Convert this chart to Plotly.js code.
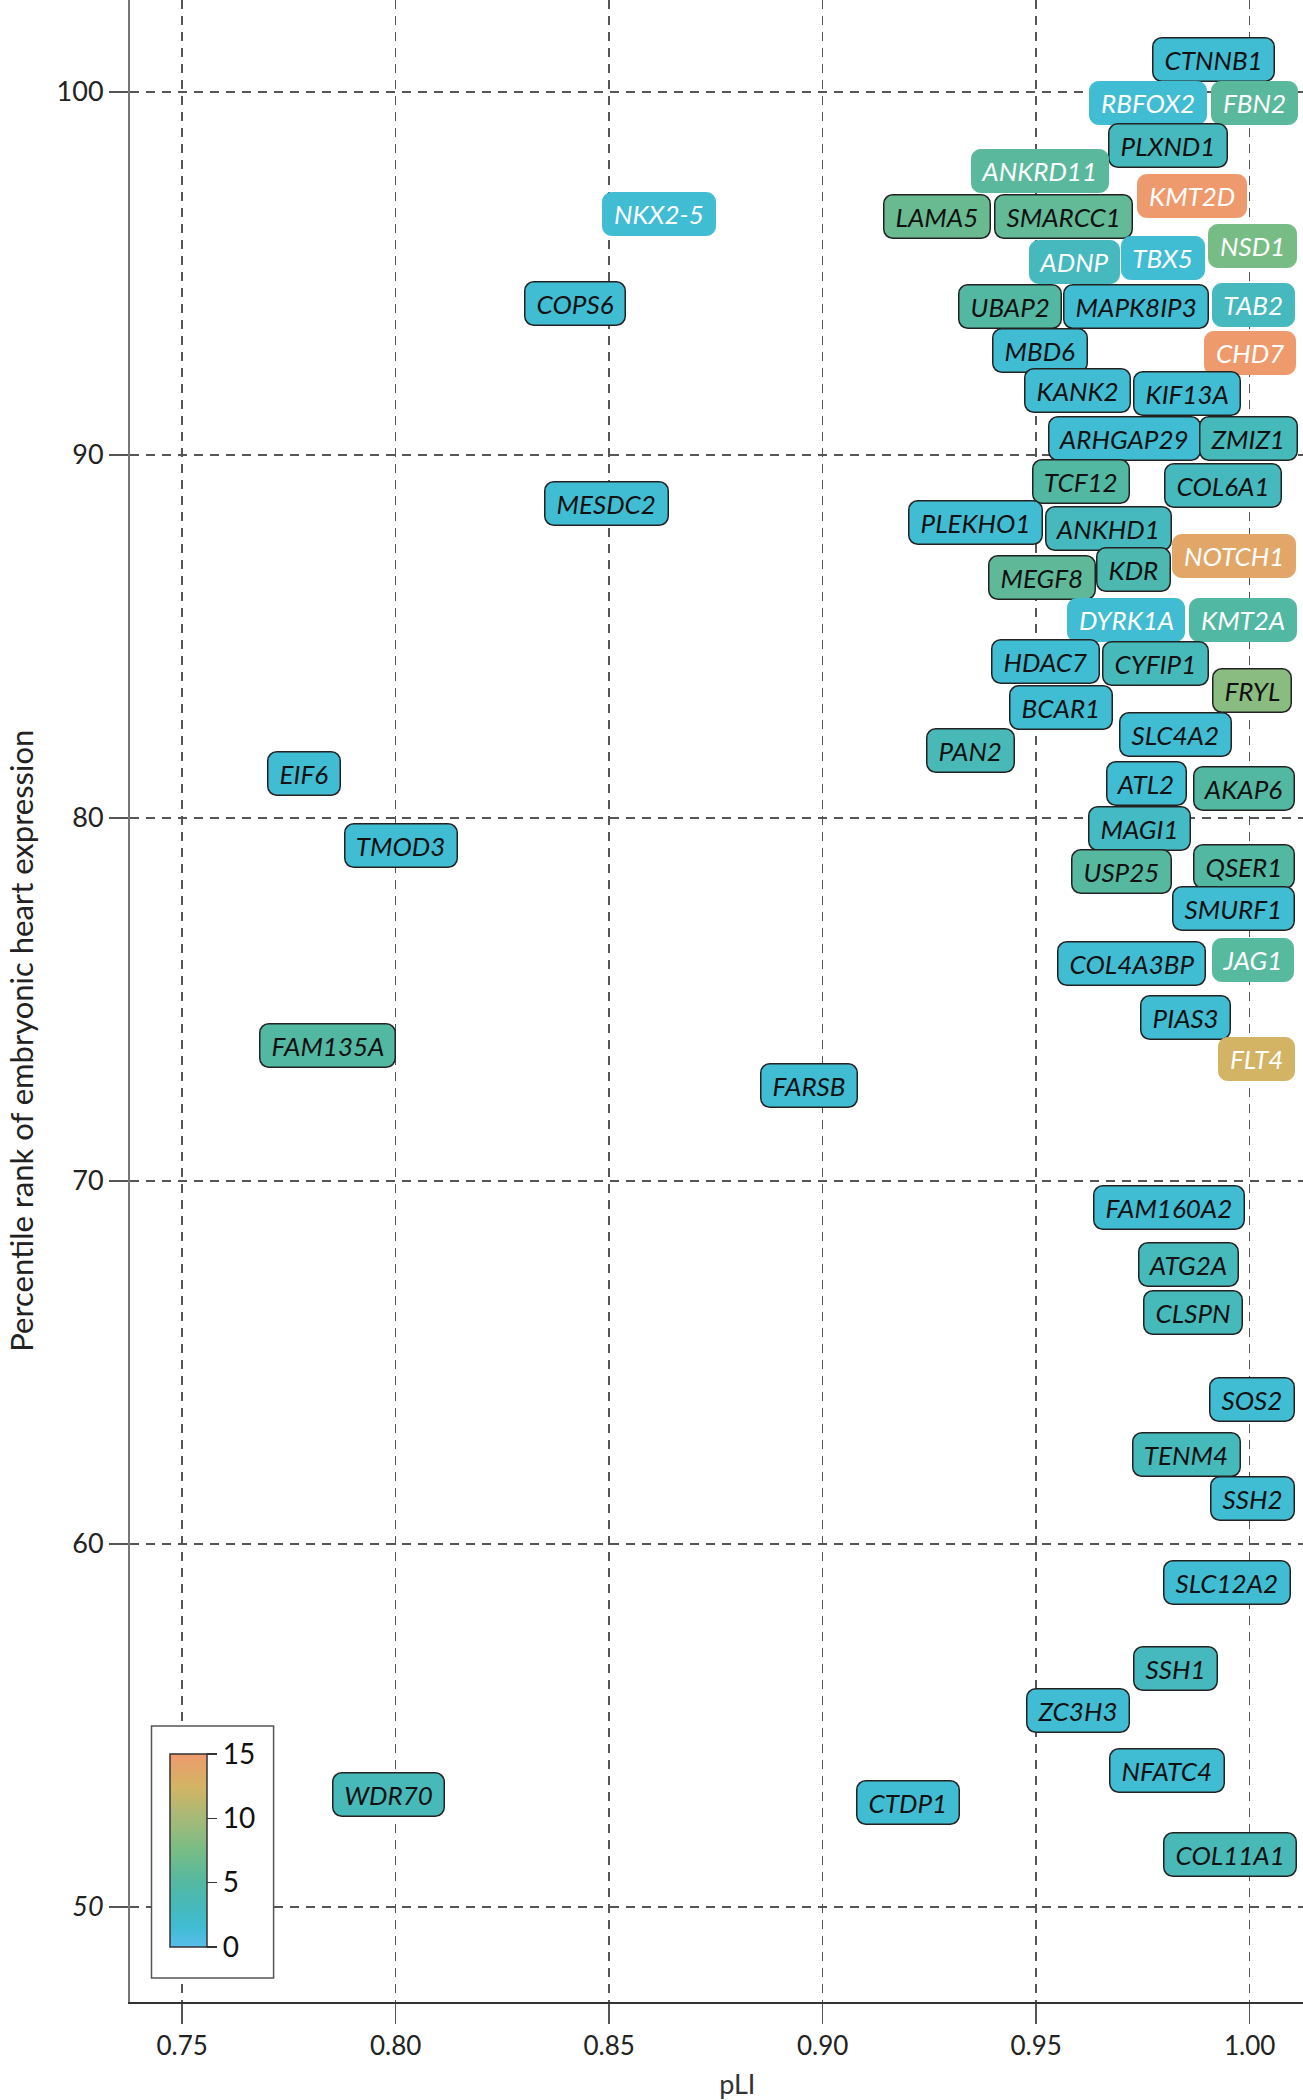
<!DOCTYPE html>
<html>
<head>
<meta charset="utf-8">
<script src="https://cdn.plot.ly/plotly-3.0.1.min.js"></script>
<style>html,body{margin:0;padding:0;background:#fff;}#chart{width:1303px;height:2100px;}</style>
</head>
<body>
<div id="chart"></div>
<script>
// ---- data ----
const genes = ["CTNNB1","RBFOX2","FBN2","PLXND1","ANKRD11","KMT2D","NKX2-5","LAMA5","SMARCC1","NSD1",
  "TBX5","ADNP","COPS6","UBAP2","MAPK8IP3","TAB2","MBD6","CHD7","KANK2","KIF13A",
  "ARHGAP29","ZMIZ1","TCF12","COL6A1","MESDC2","PLEKHO1","ANKHD1","NOTCH1","KDR","MEGF8",
  "DYRK1A","KMT2A","HDAC7","CYFIP1","FRYL","BCAR1","SLC4A2","PAN2","EIF6","ATL2",
  "AKAP6","MAGI1","TMOD3","QSER1","USP25","SMURF1","COL4A3BP","JAG1","PIAS3","FAM135A",
  "FLT4","FARSB","FAM160A2","ATG2A","CLSPN","SOS2","TENM4","SSH2","SLC12A2","SSH1",
  "ZC3H3","NFATC4","WDR70","CTDP1","COL11A1"];
const pLI = [0.9915,0.9763,1.0011,0.9809,0.9508,0.9865,0.8617,0.9269,0.9565,1.0006,
  0.9798,0.9589,0.8421,0.9439,0.9735,1.0009,0.9508,1.0002,0.9598,0.9854,
  0.9707,0.9997,0.9605,0.9937,0.8494,0.9358,0.9669,0.9963,0.9729,0.9514,
  0.9711,0.9985,0.9522,0.9779,1.0005,0.9559,0.9827,0.9346,0.7785,0.9758,
  0.9986,0.9741,0.8013,0.9987,0.9701,0.9962,0.9724,1.0009,0.9850,0.7840,
  1.0016,0.8968,0.9812,0.9857,0.9867,1.0006,0.9851,1.0006,0.9947,0.9827,
  0.9597,0.9806,0.7983,0.9200,0.9953];
const heartRank = [100.89,99.70,99.70,98.52,97.82,97.12,96.64,96.57,96.57,95.76,
  95.42,95.31,94.17,94.10,94.10,94.13,92.88,92.80,91.77,91.70,
  90.44,90.44,89.26,89.15,88.67,88.15,87.97,87.20,86.83,86.61,
  85.46,85.46,84.32,84.24,83.51,83.03,82.29,81.85,81.22,80.96,
  80.81,79.70,79.23,78.67,78.52,77.49,75.98,76.09,74.50,73.73,
  73.36,72.62,69.26,67.71,66.38,63.99,62.47,61.25,58.93,56.57,
  55.42,53.76,53.10,52.88,51.44];
const colorValue = [1.5,1.5,5.5,3.0,5.5,15,1.5,6.5,6.0,7.5,
  1.5,3.0,1.5,5.0,1.5,3.0,1.5,15,1.5,1.5,
  1.5,3.2,5.0,3.0,1.5,1.5,3.0,13.8,4.0,5.8,
  1.5,4.8,1.5,3.2,8.5,1.5,1.5,3.5,1.5,1.5,
  5.0,2.5,1.5,5.0,5.2,1.5,1.5,5.3,1.5,5.0,
  12.5,1.5,1.5,3.2,3.2,1.5,3.2,1.5,1.5,3.0,
  1.5,1.5,3.3,1.5,3.4];
const knownGenes = ["RBFOX2","FBN2","ANKRD11","KMT2D","NKX2-5","NSD1","TBX5","ADNP","TAB2","CHD7",
  "NOTCH1","DYRK1A","KMT2A","JAG1","FLT4"];
const colorTicks = [0,5,10,15];
const xTicks = [0.75,0.80,0.85,0.90,0.95,1.00];
const xTickText = ["0.75","0.80","0.85","0.90","0.95","1.00"];
const yTicks = [50,60,70,80,90,100];
const yTickText = ["<i>50</i>","60","70","80","90","100"];

// ---- style ----
const cmin = 0, cmax = 15;
const colorscale = [[0,'#5ABDEC'],[0.1,'#40BCD3'],[0.2,'#45B9BD'],[0.33,'#52B8A2'],
  [0.5,'#78BC85'],[0.67,'#A7B977'],[0.83,'#D2B464'],[1,'#EF9A6C']];
const FONT = 'Lato, "Open Sans", sans-serif';
const NB = '&nbsp;';

function hexToRgb(h){h=h.replace('#','');return [parseInt(h.slice(0,2),16),parseInt(h.slice(2,4),16),parseInt(h.slice(4,6),16)];}
function scaleColor(v){
  const t = Math.max(0, Math.min(1, (v - cmin)/(cmax - cmin)));
  for (let i=1;i<colorscale.length;i++){
    if (t <= colorscale[i][0]){
      const [t0,c0] = colorscale[i-1], [t1,c1] = colorscale[i];
      const f = (t - t0)/(t1 - t0);
      const a = hexToRgb(c0), b = hexToRgb(c1);
      const r = a.map((x,k)=>Math.round(x + (b[k]-x)*f));
      return 'rgb('+r.join(',')+')';
    }
  }
  return colorscale[colorscale.length-1][1];
}

const annotations = genes.map((g,i)=>{
  const known = knownGenes.includes(g);
  const fill = scaleColor(colorValue[i]);
  return {
    x: pLI[i], y: heartRank[i], xref:'x', yref:'y',
    text: NB + g + NB, showarrow:false,
    font:{family:FONT, size:26, style:'italic', color: known ? '#ffffff' : '#111111'},
    bgcolor: fill,
    bordercolor: known ? fill : '#222222',
    borderwidth: known ? 1 : 1.5,
    borderpad: 5
  };
});

const trace = {
  type:'scatter', mode:'markers',
  x: pLI, y: heartRank, text: genes,
  marker:{
    size:4, opacity:0,
    color: colorValue, cmin:cmin, cmax:cmax, colorscale: colorscale,
    showscale:true,
    colorbar:{
      x:0.0196, xanchor:'left', y:0.0135, yanchor:'bottom',
      len:249, lenmode:'pixels', thickness:37, thicknessmode:'pixels',
      xpad:17, ypad:28,
      outlinecolor:'#333', outlinewidth:1.5,
      bordercolor:'#555', borderwidth:1.5, bgcolor:'#ffffff',
      tickvals: colorTicks, ticktext: colorTicks.map(String),
      ticks:'outside', ticklen:10, tickwidth:1.5, tickcolor:'#333',
      tickfont:{family:FONT, size:28, color:'#111'}
    }
  },
  hoverinfo:'text', showlegend:false
};

const layout = {
  width:1303, height:2100,
  margin:{l:130, r:0, t:0, b:98},
  paper_bgcolor:'#ffffff', plot_bgcolor:'#ffffff',
  font:{family:FONT, color:'#111'},
  xaxis:{
    range:[0.7378, 1.0125],
    tickvals: xTicks, ticktext: xTickText,
    ticks:'outside', ticklen:20, tickwidth:1.5, tickcolor:'#555',
    tickfont:{family:FONT, size:26, color:'#222'},
    showline:true, linecolor:'#333', linewidth:2,
    showgrid:true, gridcolor:'#555', gridwidth:1.5, griddash:'9px,7px',
    zeroline:false,
    title:{text:NB.repeat(6) + 'pLI', font:{family:FONT, size:27, color:'#333'}, standoff:16}
  },
  yaxis:{
    range:[47.38, 102.53],
    tickvals: yTicks, ticktext: yTickText,
    ticks:'outside', ticklen:19, tickwidth:1.5, tickcolor:'#555',
    tickfont:{family:FONT, size:27, color:'#222'},
    showline:true, linecolor:'#777', linewidth:2,
    showgrid:true, gridcolor:'#555', gridwidth:1.5, griddash:'9px,7px',
    zeroline:false,
    title:{text:'Percentile rank of embryonic heart expression' + NB.repeat(10), font:{family:FONT, size:31, color:'#222'}, standoff:14}
  },
  annotations: annotations
};

Plotly.newPlot('chart', [trace], layout, {displayModeBar:false, staticPlot:true}).then(()=>{
  document.querySelectorAll('.annotation rect.bg').forEach(r=>{
    r.setAttribute('rx', 9); r.setAttribute('ry', 9);
  });
});
</script>
</body>
</html>
